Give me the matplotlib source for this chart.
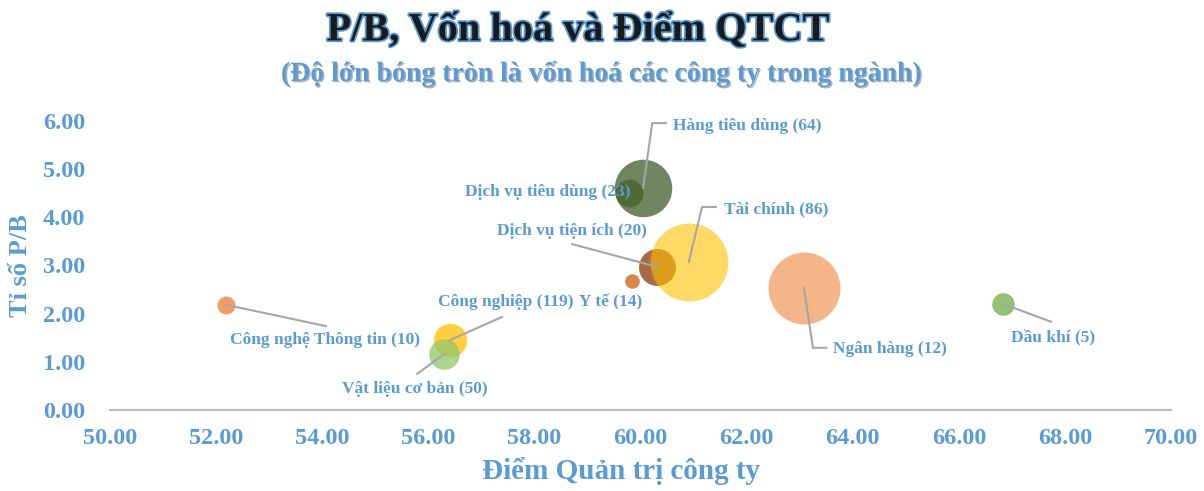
import matplotlib
matplotlib.use("Agg")
import matplotlib.pyplot as plt
import matplotlib.patheffects as pe

# ------------------------- du lieu -------------------------
nganh = ["Công nghệ Thông tin (10)", "Công nghiệp (119)", "Vật liệu cơ bản (50)",
         "Y tế (14)", "Dịch vụ tiện ích (20)", "Tài chính (86)", "Hàng tiêu dùng (64)",
         "Dịch vụ tiêu dùng (23)", "Ngân hàng (12)", "Dầu khí (5)"]
diem_qtct = [52.19, 56.41, 56.30, 59.84, 60.31, 60.91, 60.05, 59.78, 63.08, 66.83]
pb = [2.18, 1.45, 1.16, 2.68, 2.97, 3.07, 4.61, 4.50, 2.53, 2.20]
von_hoa = [81, 279, 234, 53, 342, 1521, 829, 196, 1296, 128]   # do lon bong tron (uoc luong)

x_ticks = [50, 52, 54, 56, 58, 60, 62, 64, 66, 68, 70]
y_ticks = [0, 1, 2, 3, 4, 5, 6]

# ------------------------- kieu dang -------------------------
mau = ["#ED7D31", "#FFC000", "#8FC866", "#D2691E", "#8B3A0C", "#FFC000",
       "#385723", "#3D5A1A", "#F4B183", "#70AD47"]
alpha = [0.75, 0.75, 0.75, 0.8, 0.75, 0.6, 0.72, 0.6, 0.95, 0.75]

# vi tri nhan (toa do du lieu) va duong dan
nhan_vt = [(54.05, 1.45, "center"), (57.45, 2.24, "center"), (55.75, 0.44, "center"),
           (59.44, 2.24, "center"), (58.71, 3.71, "center"), (61.57, 4.17, "left"),
           (60.61, 5.89, "left"), (58.26, 4.52, "center"), (63.63, 1.27, "left"),
           (67.78, 1.49, "center")]
dan = [[(54.07, 1.74)], [(57.39, 1.93)], [(55.79, 0.75)], None, [(58.71, 3.44)],
       [(61.16, 4.21), (61.42, 4.21)], [(60.22, 5.95), (60.48, 5.95)], None,
       [(63.25, 1.29), (63.50, 1.29)], [(67.74, 1.83)]]

xanh = "#5B9BD5"
font = "Liberation Serif"

fig = plt.figure(figsize=(12.04, 4.91), dpi=100)
ax = fig.add_axes([0.0914, 0.165, 0.8812, 0.5892])

for i in range(len(nganh)):
    ax.scatter(diem_qtct[i], pb[i], s=von_hoa[i] * 2.07, color=mau[i], alpha=alpha[i],
               linewidths=0, zorder=2 + i)

for i in range(len(nganh)):
    if dan[i] is not None:
        xs = [diem_qtct[i]] + [p[0] for p in dan[i]]
        ys = [pb[i]] + [p[1] for p in dan[i]]
        ax.plot(xs, ys, color="#A6A6A6", lw=1.5, zorder=20, clip_on=False)
    tx, ty, ha = nhan_vt[i]
    ax.text(tx, ty, nganh[i], ha=ha, va="center", color=xanh, fontsize=12.5,
            fontweight="bold", family=font, zorder=21, clip_on=False)

ax.set_xlim(50, 70)
ax.set_ylim(0, 6)
ax.set_xticks(x_ticks)
ax.set_yticks(y_ticks)
ax.set_xticklabels(["%.2f" % v for v in x_ticks])
ax.set_yticklabels(["%.2f" % v for v in y_ticks])
for lab in ax.get_xticklabels() + ax.get_yticklabels():
    lab.set_family(font)
    lab.set_fontweight("bold")
    lab.set_fontsize(17.5)
    lab.set_color(xanh)
ax.tick_params(length=0, pad=13)
ax.tick_params(axis="y", pad=18)

for s in ["top", "right", "left"]:
    ax.spines[s].set_visible(False)
ax.spines["bottom"].set_color("#BFBFBF")
ax.spines["bottom"].set_linewidth(1.5)

ax.set_xlabel("Điểm Quản trị công ty", family=font, fontweight="bold", fontsize=21,
              color=xanh, labelpad=5)
ax.xaxis.set_label_coords(0.482, -0.21)
ax.xaxis.label.set_va("center")
ax.set_ylabel("Tỉ số P/B", family=font, fontweight="bold", fontsize=19,
              color=xanh, labelpad=8)

fig.text(0.48, 0.937, "P/B, Vốn hoá và Điểm QTCT", ha="center", va="center",
         family=font, fontweight="bold", fontsize=29, color="#1A1A1A",
         path_effects=[pe.withStroke(linewidth=2.5, foreground=xanh)])
fig.text(0.499, 0.85, "(Độ lớn bóng tròn là vốn hoá các công ty trong ngành)",
         ha="center", va="center", family=font, fontweight="bold", fontsize=20,
         color=xanh,
         path_effects=[pe.SimplePatchShadow(offset=(1, -1), shadow_rgbFace="#7F7F7F", alpha=0.6),
                       pe.Normal()])

fig.savefig("out.png", dpi=100)
